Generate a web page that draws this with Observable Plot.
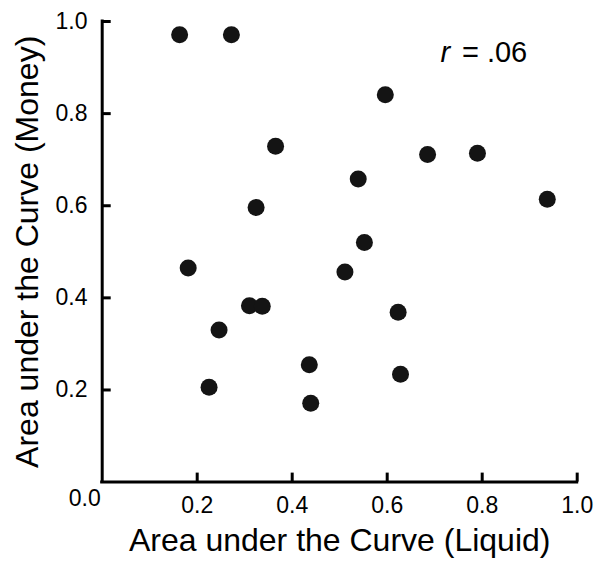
<!DOCTYPE html>
<html>
<head>
<meta charset="utf-8">
<script src="https://cdn.jsdelivr.net/npm/d3@7"></script>
<script src="https://cdn.jsdelivr.net/npm/@observablehq/plot@0.6"></script>
<style>
  html, body { margin: 0; padding: 0; background: #fff; }
  #chart svg { display: block; }
</style>
</head>
<body>
<div id="chart"></div>
<script>
const liquid = [0.163,0.272,0.596,0.365,0.685,0.790,0.937,0.539,0.324,0.552,0.181,0.511,0.310,0.337,0.623,0.246,0.436,0.225,0.628,0.439];
const money  = [0.971,0.971,0.841,0.729,0.711,0.714,0.614,0.658,0.596,0.520,0.465,0.456,0.383,0.382,0.369,0.330,0.255,0.206,0.234,0.171];
const tickValues = [0.2, 0.4, 0.6, 0.8, 1.0];
const originLabel = "0.0";
const xTitle = "Area under the Curve (Liquid)";
const yTitle = "Area under the Curve (Money)";
const rSymbol = "r";
const rValue = "= .06";

const points = liquid.map((x, i) => ({x, y: money[i]}));
const FONT = "'Liberation Sans', Arial, Helvetica, sans-serif";
const fmt = d => d.toFixed(1);

const W = 600, H = 567;
const mL = 101.7, mR = 23.3, mT = 21, mB = 85.4;
const frameW = W - mL - mR, frameH = H - mT - mB;
const TICK = 9;
const SW = 3;

const chart = Plot.plot({
  width: W,
  height: H,
  marginLeft: mL,
  marginRight: mR,
  marginTop: mT,
  marginBottom: mB,
  style: {fontFamily: FONT, background: "#fff", color: "#000"},
  x: {domain: [0, 1], axis: null},
  y: {domain: [0, 1], axis: null},
  marks: [
    Plot.ruleX([0], {y1: 0, y2: 1, stroke: "#000", strokeWidth: SW, strokeLinecap: "square"}),
    Plot.ruleY([0], {x1: 0, x2: 1, stroke: "#000", strokeWidth: SW, strokeLinecap: "square"}),
    Plot.ruleX(tickValues, {x: d => d, y1: 0, y2: () => TICK / frameH, stroke: "#000", strokeWidth: SW}),
    Plot.ruleY(tickValues, {y: d => d, x1: 0, x2: () => TICK / frameW, stroke: "#000", strokeWidth: SW}),
    Plot.text(tickValues, {x: d => d, frameAnchor: "bottom", text: fmt, lineAnchor: "top", dy: 15, fontSize: 23, fill: "#000"}),
    Plot.text(tickValues, {y: d => d, frameAnchor: "left", text: fmt, textAnchor: "end", lineAnchor: "middle", dx: -14.7, fontSize: 23, fill: "#000"}),
    Plot.text([originLabel], {frameAnchor: "bottom-left", text: d => d, textAnchor: "end", lineAnchor: "middle", dx: -1.5, dy: 16.5, fontSize: 23, fill: "#000"}),
    Plot.text([xTitle], {frameAnchor: "bottom", text: d => d, textAnchor: "middle", lineAnchor: "middle", dy: 59, fontSize: 32, fill: "#000"}),
    Plot.text([yTitle], {frameAnchor: "left", text: d => d, rotate: -90, textAnchor: "middle", lineAnchor: "middle", dx: -74.7, fontSize: 32, fill: "#000"}),
    Plot.text([rSymbol], {frameAnchor: "top-right", text: d => d, textAnchor: "end", lineAnchor: "middle", dx: -127, dy: 31.7, fontSize: 29, fontStyle: "italic", fill: "#000"}),
    Plot.text([rValue], {frameAnchor: "top-right", text: d => d, textAnchor: "end", lineAnchor: "middle", dx: -50, dy: 31.7, fontSize: 29, fill: "#000"}),
    Plot.dot(points, {x: "x", y: "y", r: 8.5, fill: "#141414", stroke: "none"})
  ]
});
document.getElementById("chart").appendChild(chart);
</script>
</body>
</html>
